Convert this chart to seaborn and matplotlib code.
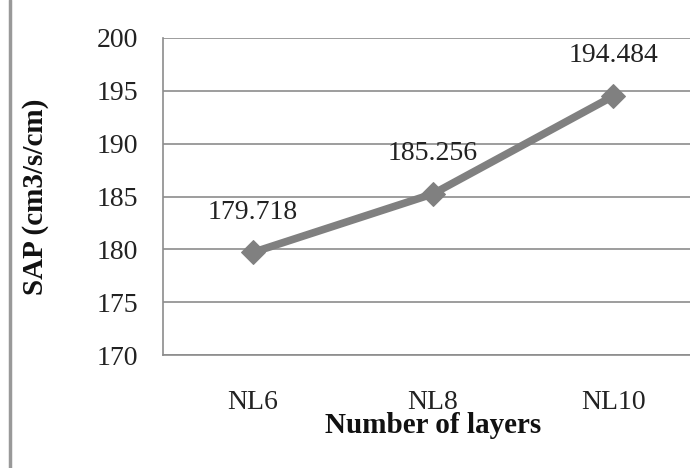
import matplotlib
matplotlib.use("Agg")
import matplotlib.pyplot as plt
import seaborn as sns
import pandas as pd

categories = ["NL6", "NL8", "NL10"]
sap_values = [179.718, 185.256, 194.484]
y_ticks = [170, 175, 180, 185, 190, 195, 200]

sns.set_theme(style="white")
plt.rcParams["font.family"] = ["Liberation Serif", "DejaVu Serif"]

df = pd.DataFrame({"pos": range(len(categories)), "sap": sap_values})

fig = plt.figure(figsize=(6.9, 4.68), dpi=100)
ax = fig.add_axes([0.236, 0.241, 0.783, 0.678])

grid_color = "#8c8c8c"
for v in y_ticks:
    ax.axhline(v, color=grid_color, lw=1.2, zorder=1)

sns.lineplot(data=df, x="pos", y="sap", ax=ax, color="#808080", lw=5.5,
             marker="D", markersize=12, markeredgecolor="#808080", zorder=3)

for x, v in zip(df["pos"], df["sap"]):
    ax.annotate(f"{v:.3f}", (x, v), xytext=(0, 20), textcoords="offset points",
                ha="center", va="bottom", fontsize=20, color="#222222")

ax.set_xlim(-0.5, len(categories) - 0.5)
ax.set_ylim(170, 200)
ax.set_yticks(y_ticks)
ax.set_yticklabels([str(v) for v in y_ticks], fontsize=20, color="#222222")
ax.set_xticks(range(len(categories)))
ax.set_xticklabels(categories, fontsize=20, color="#222222")
ax.set_xticks([-0.5, 0.5, 1.5, 2.5], minor=True)
ax.tick_params(axis="x", which="major", length=0, pad=25)
ax.tick_params(axis="x", which="minor", length=6, width=1.2, color=grid_color, direction="out")
ax.tick_params(axis="y", which="major", length=8, width=1.2, color=grid_color, direction="out", pad=10)

for s in ["top", "right"]:
    ax.spines[s].set_visible(False)
for s in ["left", "bottom"]:
    ax.spines[s].set_color(grid_color)
    ax.spines[s].set_linewidth(1.2)

ax.set_xlabel("Number of layers", fontsize=21, fontweight="bold", labelpad=-2, color="#111111")
ax.set_ylabel("SAP (cm3/s/cm)", fontsize=21, fontweight="bold", labelpad=34, color="#111111")

# frame line along the left edge
fig.add_artist(plt.Line2D([0.0145, 0.0145], [0.0, 1.0], color="#999999", lw=2.5))

fig.savefig("out.png", dpi=100)
